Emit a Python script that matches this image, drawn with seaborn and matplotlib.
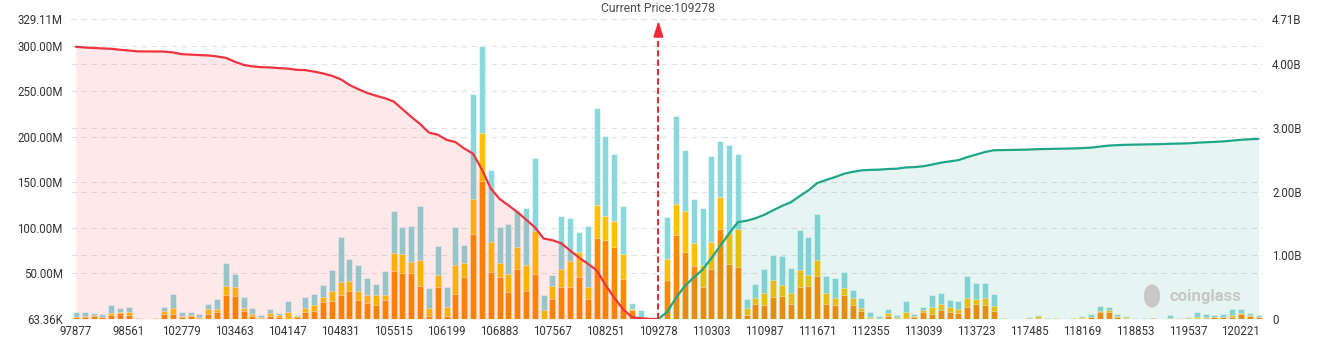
import numpy as np
import pandas as pd
import matplotlib
matplotlib.use("Agg")
import matplotlib.pyplot as plt
import matplotlib.transforms as mtransforms
from matplotlib.patches import Ellipse
import seaborn as sns

# ---------------- data ----------------
price_labels = ["97877", "98561", "102779", "103463", "104147", "104831", "105515",
                "106199", "106883", "107567", "108251", "109278", "110303", "110987",
                "111671", "112355", "113039", "113723", "117485", "118169", "118853",
                "119537", "120221"]
current_price = "109278"

# stacked bar segments (millions), one value per price level, left to right
orange = [1.8, 2.2, 3.0, 1.8, 4.0, 6.8, 4.6, 0.4, 0.1, 0.3,
          5.9, 5.9, 2.2, 3.8, 1.5, 5.9, 8.2, 26.4, 25.4, 9.2,
          3.8, 1.1, 3.4, 2.4, 0.5, 2.2, 8.1, 9.2, 19.0, 19.5,
          26.0, 30.5, 20.7, 17.2, 15.2, 20.5, 52.5, 51.0, 50.2, 35.8,
          3.0, 35.5, 3.5, 27.3, 45.6, 93.8, 150.9, 51.3, 46.5, 30.0,
          55.3, 30.8, 49.8, 0.6, 21.6, 35.2, 35.5, 45.8, 21.6, 88.5,
          87.2, 78.6, 44.3, 9.4, 0.3, 1.3, 0.0, 42.5, 92.7, 74.0,
          58.6, 35.2, 55.0, 98.5, 60.4, 57.1, 4.4, 16.5, 15.0, 24.2,
          25.3, 16.8, 35.5, 36.3, 47.6, 16.8, 15.4, 26.7, 15.4, 9.0,
          1.5, 0.6, 3.1, 1.1, 0.7, 1.8, 7.2, 6.0, 9.9, 8.1,
          7.0, 13.6, 16.7, 15.4, 9.2, 0.3, 0.1, 0.1, 1.0, 1.2,
          0.3, 0.2, 0.1, 0.4, 1.5, 1.8, 7.3, 7.5, 2.6, 1.5,
          0.1, 0.1, 1.2, 0.1, 0.4, 0.1, 0.8, 1.5, 1.5, 1.8,
          1.8, 2.6, 5.3, 3.7, 1.8]
yellow = [0.8, 1.5, 1.6, 0.5, 2.3, 1.4, 3.4, 0.6, 0.1, 0.4,
          2.5, 6.6, 1.2, 0.6, 0.7, 5.4, 2.5, 10.2, 9.4, 3.3,
          1.7, 0.7, 2.8, 2.0, 7.5, 1.2, 3.6, 6.1, 5.0, 11.5,
          14.5, 11.0, 10.0, 9.2, 11.0, 5.5, 19.8, 20.0, 12.6, 28.7,
          9.0, 13.3, 9.8, 32.3, 15.4, 38.4, 52.8, 32.8, 14.5, 19.7,
          23.5, 28.8, 46.6, 9.5, 14.3, 19.7, 28.6, 27.3, 13.6, 37.0,
          26.0, 28.6, 26.6, 1.6, 0.2, 0.2, 0.0, 23.8, 33.7, 44.0,
          24.6, 24.1, 30.0, 35.2, 33.8, 41.4, 7.3, 6.6, 13.2, 18.7,
          11.7, 11.4, 18.3, 12.1, 17.6, 11.8, 7.3, 7.7, 8.1, 3.5,
          0.9, 0.4, 3.3, 1.0, 6.5, 1.5, 2.6, 6.7, 6.6, 4.6,
          3.6, 9.9, 5.1, 7.3, 5.6, 0.4, 0.1, 0.1, 0.3, 2.0,
          0.5, 0.7, 0.2, 0.3, 0.5, 1.0, 1.2, 2.2, 0.6, 0.3,
          0.4, 0.1, 0.2, 0.2, 0.6, 0.3, 0.4, 1.3, 1.3, 0.6,
          1.0, 1.8, 1.3, 0.5, 0.7]
cyan = [4.7, 3.6, 2.4, 3.2, 9.1, 3.9, 5.2, 0.5, 0.3, 0.8,
        4.8, 14.5, 3.9, 3.1, 3.3, 4.8, 10.9, 24.4, 14.5, 11.5,
        6.6, 2.2, 4.6, 2.7, 11.8, 1.2, 12.1, 12.7, 13.5, 22.5,
        50.0, 24.5, 28.1, 18.1, 11.8, 26.5, 46.7, 30.3, 39.7, 60.0,
        22.0, 31.7, 21.7, 41.4, 20.0, 114.5, 95.3, 79.6, 40.1, 54.7,
        40.2, 62.0, 80.6, 16.1, 12.9, 57.6, 46.7, 22.9, 66.5, 106.5,
        88.1, 73.8, 53.3, 6.5, 9.2, 0.0, 0.0, 45.4, 96.7, 67.7,
        48.3, 62.7, 94.1, 61.6, 96.6, 82.8, 10.6, 15.4, 26.4, 27.8,
        32.2, 27.8, 44.0, 42.1, 49.5, 19.0, 22.4, 16.9, 8.5, 10.2,
        5.3, 2.3, 4.2, 2.3, 12.6, 2.2, 3.8, 13.7, 12.5, 8.0,
        9.2, 23.8, 18.2, 17.3, 12.7, 0.6, 0.2, 0.2, 0.5, 1.2,
        0.5, 0.2, 0.1, 0.8, 1.3, 2.7, 6.2, 3.9, 2.6, 1.5,
        0.2, 0.5, 0.2, 0.1, 3.4, 0.3, 0.6, 4.5, 3.0, 1.8,
        2.9, 6.4, 4.2, 2.5, 2.2]

# cumulative lines (billions): red from the first level up to the current price,
# green from the current price to the last level
red_cum = [4.274, 4.2625, 4.2552, 4.2482, 4.2427, 4.2273, 4.2152, 4.2020, 4.2005, 4.2000,
           4.1985, 4.1853, 4.1583, 4.1510, 4.1435, 4.1380, 4.1219, 4.1003, 4.0393, 3.9900,
           3.9660, 3.9539, 3.9499, 3.9391, 3.9320, 3.9122, 3.9076, 3.8838, 3.8558, 3.8183,
           3.7648, 3.6743, 3.6083, 3.5495, 3.5050, 3.4670, 3.4145, 3.2955, 3.1742, 3.0617,
           2.9272, 2.8932, 2.8127, 2.7777, 2.6767, 2.5957, 2.3490, 2.0500, 1.8863, 1.7852,
           1.6808, 1.5618, 1.4402, 1.2632, 1.2370, 1.1882, 1.0757, 0.9649, 0.8689, 0.7672,
           0.5352, 0.3339, 0.1529, 0.0287, 0.0112, 0.0015, 0.0]
green_cum = [0.0, 0.1117, 0.3348, 0.5205, 0.6520, 0.7740, 0.9531, 1.1484, 1.3392, 1.5205,
             1.5428, 1.5813, 1.6359, 1.7066, 1.7758, 1.8318, 1.9296, 2.0201, 2.1348, 2.1824,
             2.2275, 2.2788, 2.3108, 2.3335, 2.3412, 2.3445, 2.3551, 2.3595, 2.3793, 2.3848,
             2.3984, 2.4248, 2.4538, 2.4745, 2.4943, 2.5416, 2.5816, 2.6216, 2.6491, 2.6522,
             2.6544, 2.6566, 2.6602, 2.6664, 2.6695, 2.6724, 2.6746, 2.6779, 2.6830, 2.6903,
             2.7068, 2.7222, 2.7298, 2.7349, 2.7374, 2.7399, 2.7433, 2.7455, 2.7517, 2.7542,
             2.7578, 2.7669, 2.7745, 2.7805, 2.7880, 2.8006, 2.8132, 2.8217, 2.8282]

left_ticks = [0.06336, 50, 100, 150, 200, 250, 300, 329.11]
left_labels = ["63.36K", "50.00M", "100.00M", "150.00M", "200.00M", "250.00M", "300.00M", "329.11M"]
right_ticks = [0, 1, 2, 3, 4, 4.71]
right_labels = ["0", "1.00B", "2.00B", "3.00B", "4.00B", "4.71B"]

# ---------------- styling ----------------
ORANGE = "#ff8a00"
YELLOW = "#ffc000"
CYAN = "#8ad8db"
RED = "#ef3340"
GREEN = "#1fa688"
TXT = "#333333"

sns.set_theme(style="white")
plt.rcParams["font.family"] = ["Roboto", "DejaVu Sans"]

W, H = 1323, 337
fig = plt.figure(figsize=(W / 100, H / 100), dpi=100)
ax = fig.add_axes([71 / W, 1 - 319 / H, 1192 / W, 300 / H])

n = len(orange)
step = 6
cur_idx = price_labels.index(current_price) * step
o = np.array(orange)
yv = np.array(yellow)
c = np.array(cyan)
df = pd.DataFrame({"pos": np.arange(n), "o": o, "oy": o + yv, "tot": o + yv + c})

common = dict(ax=ax, width=0.68, saturation=1, errorbar=None,
              linewidth=0.6, edgecolor=(1, 1, 1, 0.55))
sns.barplot(data=df, x="pos", y="tot", color=CYAN, **common)
sns.barplot(data=df, x="pos", y="oy", color=YELLOW, **common)
sns.barplot(data=df, x="pos", y="o", color=ORANGE, **common)

ymin_l, ymax_l = left_ticks[0], left_ticks[-1]
ax.set_xlim(-0.55, n - 0.5)
ax.set_ylim(ymin_l, ymax_l)

# grid lines (behind bars) for both axes
for v in left_ticks:
    ax.axhline(v, color="#e2e2e2", lw=0.8, ls=(0, (5, 4)), zorder=0)
for v in right_ticks:
    vl = ymin_l + v * (ymax_l - ymin_l) / right_ticks[-1]
    ax.axhline(vl, color="#e2e2e2", lw=0.8, ls=(0, (5, 4)), zorder=0)

ax2 = ax.twinx()
ax2.set_ylim(0, right_ticks[-1])
red_x = np.arange(len(red_cum))
green_x = np.arange(cur_idx, cur_idx + len(green_cum))
ax2.fill_between(red_x, 0, red_cum, color=RED, alpha=0.11, linewidth=0)
ax2.fill_between(green_x, 0, green_cum, color=GREEN, alpha=0.107, linewidth=0)
sns.lineplot(x=red_x, y=red_cum, ax=ax2, color=RED, linewidth=1.6)
sns.lineplot(x=green_x, y=green_cum, ax=ax2, color=GREEN, linewidth=1.6)
ax2.set_xlim(-0.55, n - 0.5)
ax2.set_ylim(0, right_ticks[-1])

# current price marker
ax2.plot([cur_idx, cur_idx], [0, 4.47], color="#ee2a36", lw=1.5, ls=(0, (3, 1.5)), zorder=6)
ax2.annotate("", xy=(cur_idx, 4.68), xytext=(cur_idx, 4.46),
             arrowprops=dict(arrowstyle="-|>,head_length=0.95,head_width=0.3",
                             color="#ee2a36", lw=1.2, shrinkA=0, shrinkB=0,
                             mutation_scale=10))
trans = mtransforms.blended_transform_factory(ax2.transData, ax2.transAxes)
ax2.text(cur_idx, 1 + 11 / 300, f"Current Price:{current_price}", transform=trans,
         ha="center", va="center", fontsize=8.7, color="#4d4d4d")

# ticks
ax.set_xticks(np.arange(0, n, step)[:len(price_labels)])
ax.set_xticklabels(price_labels)
ax.set_yticks(left_ticks)
ax.set_yticklabels(left_labels)
ax2.set_yticks(right_ticks)
ax2.set_yticklabels(right_labels)
ax.tick_params(axis="x", length=0, pad=4, labelsize=8.3, labelcolor=TXT)
ax.tick_params(axis="y", length=0, pad=6, labelsize=8.3, labelcolor=TXT)
ax2.tick_params(axis="y", length=0, pad=6.5, labelsize=8.3, labelcolor=TXT)
for a in (ax, ax2):
    a.set_xlabel("")
    a.set_ylabel("")
    for s in a.spines.values():
        s.set_visible(False)
    a.grid(False)

# watermark
fig.add_artist(Ellipse((1152 / W, 1 - 296 / H), width=15 / W, height=22 / H,
                       transform=fig.transFigure, color="#c8c8c8", zorder=10))
fig.text(1170 / W, 1 - 296 / H, "coinglass", ha="left", va="center",
         fontsize=12, fontweight="bold", color="#c6c6c6")

fig.savefig("out.png", dpi=100)
